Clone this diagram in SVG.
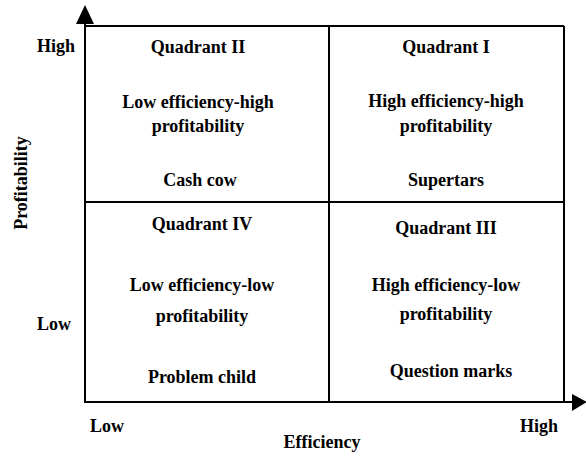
<svg xmlns="http://www.w3.org/2000/svg" width="586" height="457" viewBox="0 0 586 457">
  <style>
    .t { font-family: 'Liberation Serif', 'Times New Roman', serif; font-size: 18px; font-weight: bold; fill: #000; }
    .c { text-anchor: middle; }
    .ln { stroke: #000; stroke-width: 2; fill: none; }
  </style>
  <rect width="586" height="457" fill="#fff"/>

  <!-- axes and quadrant grid -->
  <g id="connectors">
    <line class="ln" x1="85" y1="22" x2="85" y2="403"/>
    <polygon points="85,5 76,24 94,24" fill="#000"/>
    <line class="ln" x1="84" y1="402" x2="574" y2="402"/>
    <polygon points="587,402 572,394 572,411" fill="#000"/>
    <line class="ln" x1="85" y1="26" x2="564" y2="26"/>
    <line class="ln" x1="564" y1="26" x2="564" y2="402"/>
    <line class="ln" x1="85" y1="202" x2="564" y2="202"/>
    <line class="ln" x1="329" y1="26" x2="329" y2="402"/>
  </g>

  <g id="quadrant-2">
    <text class="t c" x="198" y="53">Quadrant II</text>
    <text class="t c" x="198" y="108">Low efficiency-high</text>
    <text class="t c" x="198" y="132">profitability</text>
    <text class="t c" x="200" y="186">Cash cow</text>
  </g>
  <g id="quadrant-1">
    <text class="t c" x="446" y="53">Quadrant I</text>
    <text class="t c" x="446" y="107">High efficiency-high</text>
    <text class="t c" x="446" y="132">profitability</text>
    <text class="t c" x="446" y="186">Supertars</text>
  </g>
  <g id="quadrant-4">
    <text class="t c" x="202" y="230">Quadrant IV</text>
    <text class="t c" x="202" y="291">Low efficiency-low</text>
    <text class="t c" x="202" y="322">profitability</text>
    <text class="t c" x="202" y="383">Problem child</text>
  </g>
  <g id="quadrant-3">
    <text class="t c" x="446" y="234">Quadrant III</text>
    <text class="t c" x="446" y="291">High efficiency-low</text>
    <text class="t c" x="446" y="320">profitability</text>
    <text class="t c" x="451" y="377">Question marks</text>
  </g>

  <g id="axis-labels">
    <text class="t" x="75" y="52" text-anchor="end">High</text>
    <text class="t" x="37" y="330">Low</text>
    <text class="t c" transform="translate(27,183) rotate(-90)">Profitability</text>
    <text class="t" x="90" y="432">Low</text>
    <text class="t" x="520" y="432">High</text>
    <text class="t c" x="322" y="448">Efficiency</text>
  </g>
</svg>
